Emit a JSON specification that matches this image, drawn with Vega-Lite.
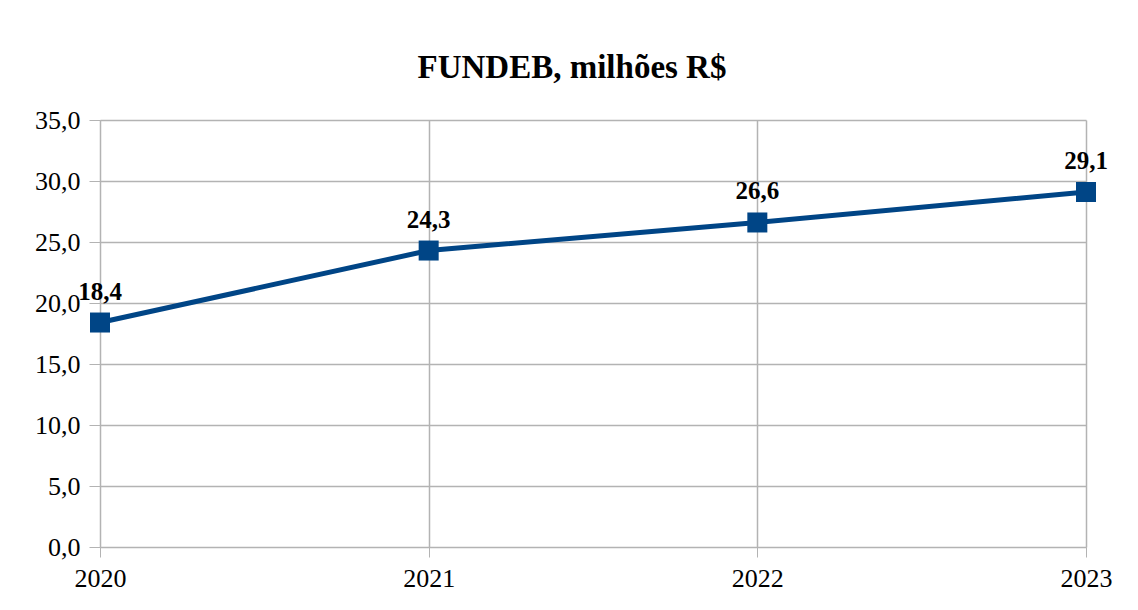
{
  "$schema": "https://vega.github.io/schema/vega-lite/v6.json",
  "width": 986,
  "height": 427,
  "autosize": {"type": "none"},
  "padding": {"left": 100, "top": 120, "right": 52, "bottom": 63},
  "background": "white",
  "title": {
    "text": "FUNDEB, milhões R$",
    "font": "Liberation Serif",
    "fontSize": 33,
    "fontWeight": "bold",
    "color": "#000000",
    "anchor": "middle",
    "baseline": "alphabetic",
    "offset": -4,
    "dx": -21
  },
  "data": {
    "values": [
      {"ano": "2020", "valor": 18.4},
      {"ano": "2021", "valor": 24.3},
      {"ano": "2022", "valor": 26.6},
      {"ano": "2023", "valor": 29.1}
    ]
  },
  "encoding": {
    "x": {
      "field": "ano",
      "type": "ordinal",
      "scale": {"type": "point", "padding": 0},
      "axis": {
        "title": null,
        "labelAngle": 0,
        "labelFont": "Liberation Serif",
        "labelFontSize": 26,
        "labelColor": "#000000",
        "labelPadding": 8,
        "tickSize": 10,
        "tickColor": "#b3b3b3",
        "domainColor": "#b3b3b3",
        "grid": true,
        "gridColor": "#b3b3b3",
        "gridWidth": 1.5
      }
    },
    "y": {
      "field": "valor",
      "type": "quantitative",
      "scale": {"domain": [0, 35], "nice": false},
      "axis": {
        "title": null,
        "values": [0, 5, 10, 15, 20, 25, 30, 35],
        "format": ".1f",
        "labelFont": "Liberation Serif",
        "labelFontSize": 26,
        "labelColor": "#000000",
        "labelPadding": 9,
        "tickSize": 11,
        "tickColor": "#b3b3b3",
        "domainColor": "#b3b3b3",
        "gridColor": "#b3b3b3",
        "gridWidth": 1.5
      }
    }
  },
  "layer": [
    {
      "mark": {"type": "line", "color": "#004586", "strokeWidth": 5}
    },
    {
      "mark": {"type": "point", "shape": "square", "size": 400, "filled": true, "color": "#004586", "opacity": 1}
    },
    {
      "mark": {"type": "text", "font": "Liberation Serif", "fontSize": 25, "fontWeight": "bold", "color": "#000000", "baseline": "alphabetic", "dy": -23},
      "encoding": {
        "text": {"field": "valor", "type": "quantitative", "format": ".1f"}
      }
    }
  ],
  "config": {
    "view": {"stroke": null},
    "locale": {
      "number": {"decimal": ",", "thousands": ".", "grouping": [3], "currency": ["R$", ""]}
    }
  }
}
